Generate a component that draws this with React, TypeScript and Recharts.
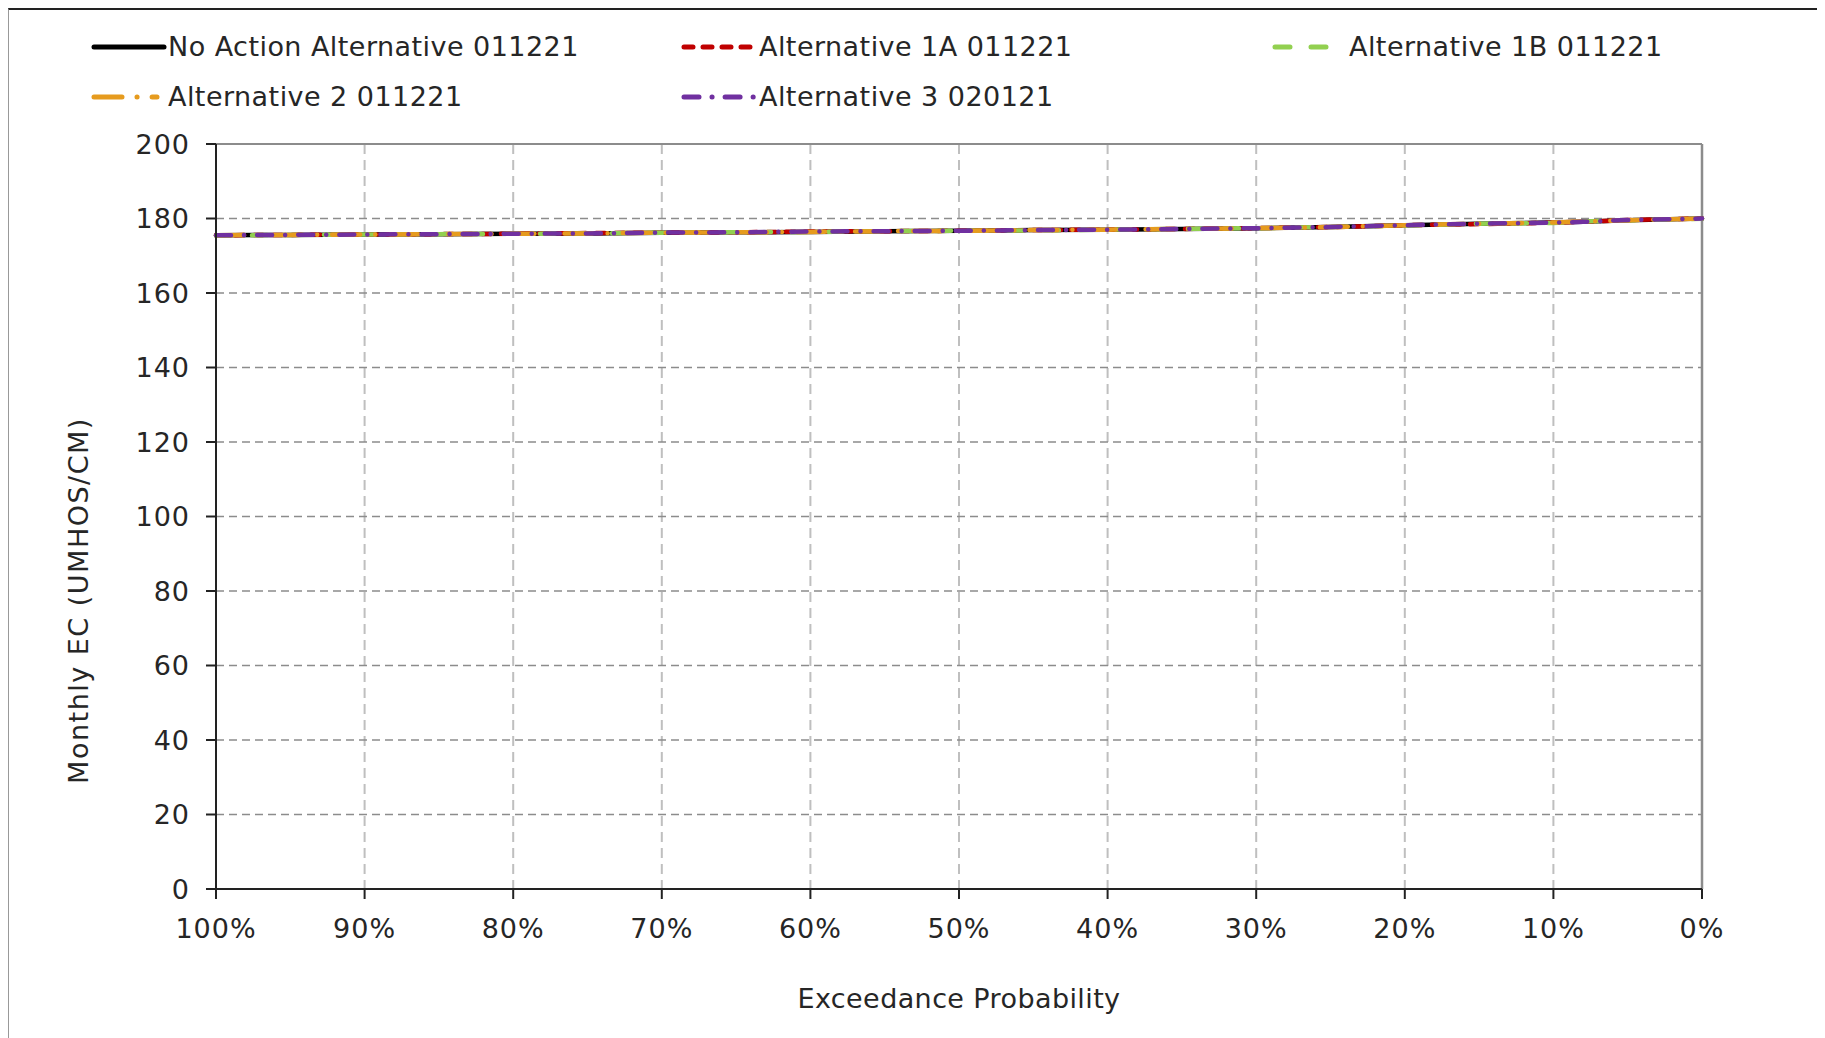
import React from "react";
import {
  LineChart,
  Line,
  XAxis,
  YAxis,
  CartesianGrid,
  ReferenceLine,
} from "recharts";

// Exceedance probability (%) — plotted from 100 on the left to 0 on the right
const exceedance = [100, 95, 90, 85, 80, 75, 70, 65, 60, 55, 50, 45, 40, 35, 30, 25, 20, 15, 10, 8, 5, 0];

const noAction = [175.5, 175.6, 175.7, 175.8, 175.9, 176.0, 176.2, 176.3, 176.4, 176.6, 176.7, 176.9, 177.0, 177.2, 177.4, 177.7, 178.2, 178.6, 178.9, 179.1, 179.5, 180.0];
const alt1A = [175.5, 175.6, 175.7, 175.8, 175.9, 176.1, 176.2, 176.3, 176.5, 176.6, 176.7, 176.9, 177.0, 177.2, 177.4, 177.7, 178.2, 178.5, 178.9, 179.1, 179.6, 180.0];
const alt1B = [175.4, 175.6, 175.7, 175.8, 175.9, 176.0, 176.2, 176.3, 176.4, 176.6, 176.7, 176.8, 177.0, 177.2, 177.4, 177.7, 178.1, 178.6, 178.8, 179.2, 179.5, 179.9];
const alt2 = [175.5, 175.6, 175.7, 175.8, 175.9, 176.0, 176.2, 176.3, 176.4, 176.6, 176.7, 176.9, 177.0, 177.2, 177.4, 177.7, 178.2, 178.6, 178.9, 179.2, 179.5, 180.0];
const alt3 = [175.5, 175.6, 175.7, 175.8, 175.9, 176.0, 176.2, 176.3, 176.5, 176.6, 176.7, 176.9, 177.0, 177.2, 177.4, 177.7, 178.2, 178.6, 178.9, 179.1, 179.6, 180.0];

const yTicks = [0, 20, 40, 60, 80, 100, 120, 140, 160, 180, 200];
const xTicks = [100, 90, 80, 70, 60, 50, 40, 30, 20, 10, 0];

const series = [
  { key: "noAction", name: "No Action Alternative 011221", values: noAction, color: "#000000", dash: undefined as string | undefined },
  { key: "alt1A", name: "Alternative 1A 011221", values: alt1A, color: "#C00000", dash: "9 10" },
  { key: "alt1B", name: "Alternative 1B 011221", values: alt1B, color: "#92D050", dash: "15 21" },
  { key: "alt2", name: "Alternative 2 011221", values: alt2, color: "#E69B1E", dash: "28 15 0.1 15" },
  { key: "alt3", name: "Alternative 3 020121", values: alt3, color: "#7030A0", dash: "15 13 0.1 13" },
];

const data = exceedance.map((p, i) => {
  const row: Record<string, number> = { p };
  series.forEach((s) => {
    row[s.key] = s.values[i];
  });
  return row;
});

const FONT = "'DejaVu Sans', sans-serif";
const TEXT = "#262626";

// legend slots: [left of sample, sample length, left of text, top]
const legendSlots = [
  { x: 82, w: 70, tx: 159, y: 27 },
  { x: 672, w: 73, tx: 750, y: 27 },
  { x: 1263, w: 57, tx: 1340, y: 27 },
  { x: 82, w: 63, tx: 159, y: 77 },
  { x: 672, w: 73, tx: 750, y: 77 },
];

function YTitle(props: any) {
  const vb = props.viewBox;
  const cx = 69;
  const cy = vb.y + vb.height / 2 + 84;
  return (
    <text
      x={cx}
      y={cy}
      transform={`rotate(-90 ${cx} ${cy})`}
      textAnchor="middle"
      dominantBaseline="central"
      fontFamily={FONT}
      fontSize={27}
      letterSpacing={1.5}
      fill={TEXT}
    >
      Monthly EC (UMHOS/CM)
    </text>
  );
}

export default function App() {
  return (
    <div
      style={{
        position: "relative",
        width: 1816,
        height: 1030,
        borderTop: "2px solid #222",
        borderLeft: "1px solid #999",
        background: "#fff",
        fontFamily: FONT,
      }}
    >
      {series.map((s, i) => {
        const slot = legendSlots[i];
        return (
          <div
            key={s.key}
            style={{ position: "absolute", left: slot.x, top: slot.y, height: 20, whiteSpace: "nowrap" }}
          >
            <svg width={slot.w + 6} height={20} style={{ position: "absolute", left: 0, top: 0 }}>
              <line
                x1={3}
                x2={slot.w + 3}
                y1={10}
                y2={10}
                stroke={s.color}
                strokeWidth={5}
                strokeLinecap="round"
                strokeDasharray={s.dash}
              />
            </svg>
            <span
              style={{
                position: "absolute",
                left: slot.tx - slot.x,
                top: -7,
                fontSize: 27,
                color: TEXT,
                lineHeight: "34px",
                letterSpacing: 0.45,
              }}
            >
              {s.name}
            </span>
          </div>
        );
      })}

      <LineChart
        width={1816}
        height={1030}
        data={data}
        margin={{ top: 134, right: 123, bottom: 90, left: 127 }}
        style={{ position: "absolute", left: 0, top: 0 }}
      >
        <CartesianGrid
          horizontal={false}
          vertical
          stroke="#BFBFBF"
          strokeWidth={2}
          strokeDasharray="10 6"
          verticalValues={[90, 80, 70, 60, 50, 40, 30, 20, 10]}
        />
        <CartesianGrid
          horizontal
          vertical={false}
          stroke="#8C8C8C"
          strokeWidth={1.5}
          strokeDasharray="8 5"
          horizontalValues={[20, 40, 60, 80, 100, 120, 140, 160, 180]}
        />
        <ReferenceLine y={200} stroke="#8C8C8C" strokeWidth={2} />
        <ReferenceLine x={0} stroke="#8C8C8C" strokeWidth={2.5} />
        <XAxis
          dataKey="p"
          type="number"
          domain={[0, 100]}
          reversed
          ticks={xTicks}
          tickFormatter={(v: number) => `${v}%`}
          interval={0}
          height={61}
          tickSize={10}
          tickMargin={20}
          stroke="#222"
          strokeWidth={2}
          tick={{ fontFamily: FONT, fontSize: 27, fill: TEXT, letterSpacing: 1 }}
          label={{
            value: "Exceedance Probability",
            position: "insideBottom",
            offset: -58,
            style: { fontFamily: FONT, fontSize: 27, fill: TEXT, letterSpacing: 0.4 },
          }}
        />
        <YAxis
          type="number"
          domain={[0, 200]}
          ticks={yTicks}
          interval={0}
          width={80}
          tickSize={10}
          tickMargin={16}
          stroke="#222"
          strokeWidth={2}
          tick={{ fontFamily: FONT, fontSize: 27, fill: TEXT, letterSpacing: 1 }}
          label={<YTitle />}
        />
        {series.map((s) => (
          <Line
            key={s.key}
            type="linear"
            dataKey={s.key}
            name={s.name}
            stroke={s.color}
            strokeWidth={4.5}
            strokeDasharray={s.dash}
            strokeLinecap="round"
            dot={false}
            activeDot={false}
            isAnimationActive={false}
          />
        ))}
      </LineChart>
    </div>
  );
}
